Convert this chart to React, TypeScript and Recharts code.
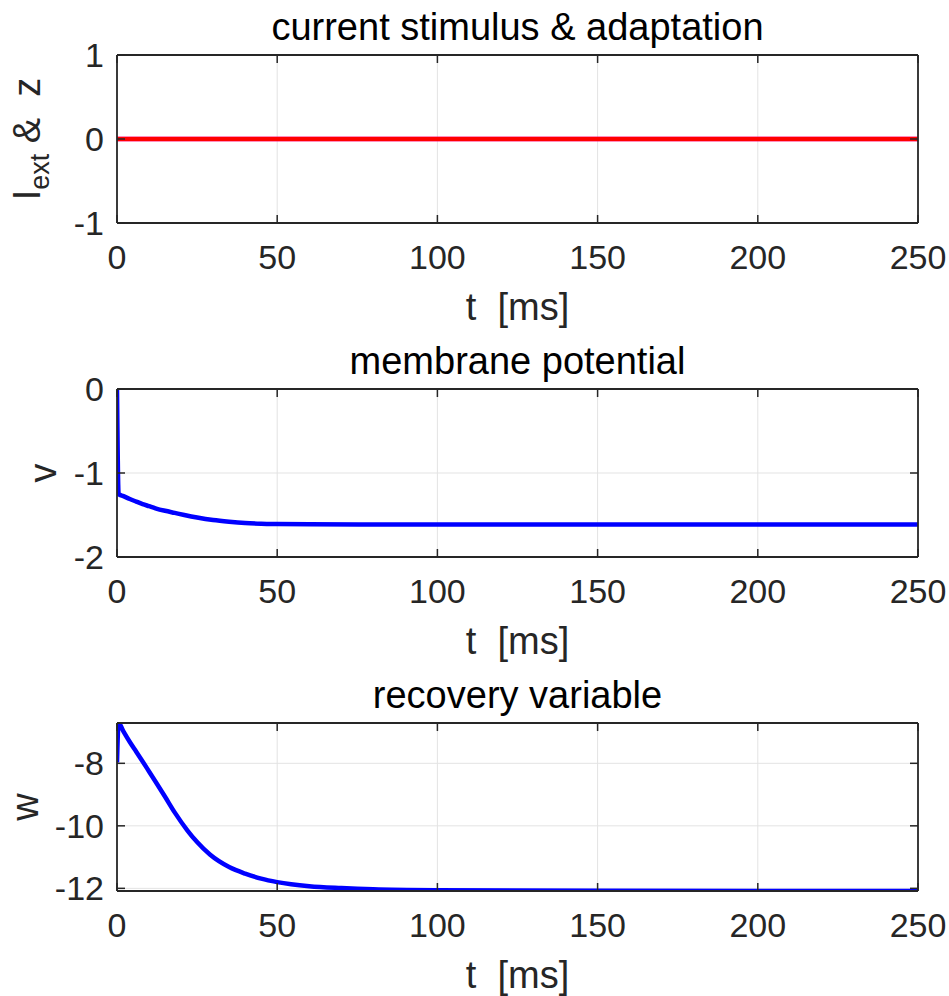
import React from 'react';
import { LineChart, Line, XAxis, YAxis, CartesianGrid } from 'recharts';

// time axis [ms]
const tTicks = [0, 50, 100, 150, 200, 250];

// panel 1: current stimulus & adaptation
const stimTime = [0, 250];
const iExt = [0, 0];
const zAdapt = [0, 0];
const stimTicks = [-1, 0, 1];

// panel 2: membrane potential
const vTime = [0, 0.5, 2, 4, 6, 8, 10, 12, 15, 18, 21, 25, 30, 35, 40, 45, 50, 60, 80, 100, 150, 200, 250];
const vValues = [0, -1.25, -1.275, -1.31, -1.34, -1.37, -1.395, -1.42, -1.45, -1.475, -1.5, -1.53, -1.56, -1.58, -1.595, -1.603, -1.607, -1.611, -1.612, -1.612, -1.612, -1.612, -1.612];
const vTicks = [-2, -1, 0];

// panel 3: recovery variable
const wTime = [0, 0.5, 2, 4, 6, 8, 10, 12, 15, 18, 22, 25, 29, 35, 40, 45, 50, 60, 70, 80, 100, 150, 200, 250];
const wValues = [-7.97, -6.71, -6.98, -7.32, -7.63, -7.94, -8.26, -8.58, -9.07, -9.57, -10.15, -10.52, -10.92, -11.32, -11.53, -11.69, -11.8, -11.93, -11.99, -12.03, -12.06, -12.08, -12.085, -12.085];
const wTicks = [-12, -10, -8];

const FONT = '"Liberation Sans", Arial, Helvetica, sans-serif';
const INK = '#262626';
const GRID = '#e3e3e3';
const W = 949;
const H = 334;
const MARGIN = { top: 55, right: 31, bottom: 51, left: 37 };
const X_AXIS_H = 60;
const Y_AXIS_W = 80;
const PLOT_H = H - MARGIN.top - MARGIN.bottom - X_AXIS_H;
const PLOT_W = W - MARGIN.left - MARGIN.right - Y_AXIS_W;
const TICK_LEN = 8;
const X_TICK_GAP = 22;
const Y_TICK_GAP = 13;

type Series = { key: string; values: number[]; color: string };

const tickStroke = { stroke: INK, strokeWidth: 1.5 };

// x tick label plus inward tick marks on bottom and top edges
function XTick(props: any) {
  const { x, y, payload } = props;
  const axisY = y - X_TICK_GAP;
  return (
    <g>
      <line x1={x} x2={x} y1={axisY} y2={axisY - TICK_LEN} {...tickStroke} />
      <line x1={x} x2={x} y1={axisY - PLOT_H} y2={axisY - PLOT_H + TICK_LEN} {...tickStroke} />
      <text x={x} y={y} dy="0.71em" textAnchor="middle" fontSize={34} fontFamily={FONT} fill={INK}>
        {payload.value}
      </text>
    </g>
  );
}

// y tick label plus inward tick marks on left and right edges
function YTick(props: any) {
  const { x, y, payload } = props;
  const axisX = x + Y_TICK_GAP;
  return (
    <g>
      <line x1={axisX} x2={axisX + TICK_LEN} y1={y} y2={y} {...tickStroke} />
      <line x1={axisX + PLOT_W} x2={axisX + PLOT_W - TICK_LEN} y1={y} y2={y} {...tickStroke} />
      <text x={x} y={y} dy="0.355em" textAnchor="end" fontSize={34} fontFamily={FONT} fill={INK}>
        {payload.value}
      </text>
    </g>
  );
}

function Panel({
  time,
  series,
  yDomain,
  yTicks,
  title,
  yLabel,
}: {
  time: number[];
  series: Series[];
  yDomain: [number, number];
  yTicks: number[];
  title: string;
  yLabel: (vb: any) => React.ReactNode;
}) {
  const data = time.map((t, i) => {
    const row: Record<string, number> = { t };
    series.forEach((s) => (row[s.key] = s.values[i]));
    return row;
  });

  const boxLine = { stroke: INK, strokeWidth: 1.8 };

  const xLabel = (props: any) => {
    const vb = props.viewBox;
    const cx = vb.x + vb.width / 2;
    return (
      <g>
        <text x={cx} y={vb.y - PLOT_H - 15} textAnchor="middle" fontSize={38} fontFamily={FONT} fill="#000">
          {title}
        </text>
        <text x={cx} y={vb.y + 97} textAnchor="middle" fontSize={38} fontFamily={FONT} fill={INK} style={{ whiteSpace: 'pre' }}>
          {'t  [ms]'}
        </text>
      </g>
    );
  };

  return (
    <LineChart width={W} height={H} data={data} margin={MARGIN}>
      <CartesianGrid xAxisId="x" yAxisId="y" stroke={GRID} strokeWidth={1} />
      <XAxis
        xAxisId="x"
        dataKey="t"
        type="number"
        domain={[0, 250]}
        ticks={tTicks}
        interval={0}
        allowDataOverflow
        height={X_AXIS_H}
        tickLine={false}
        tickSize={0}
        tickMargin={X_TICK_GAP}
        axisLine={boxLine}
        tick={<XTick />}
        label={xLabel}
      />
      <XAxis xAxisId="xt" dataKey="t" type="number" orientation="top" domain={[0, 250]} ticks={tTicks} interval={0} allowDataOverflow mirror tick={false} tickLine={false} axisLine={boxLine} />
      <YAxis
        yAxisId="y"
        type="number"
        domain={yDomain}
        ticks={yTicks}
        interval={0}
        allowDataOverflow
        width={Y_AXIS_W}
        tickLine={false}
        tickSize={0}
        tickMargin={Y_TICK_GAP}
        axisLine={boxLine}
        tick={<YTick />}
        label={(props: any) => yLabel(props.viewBox)}
      />
      <YAxis yAxisId="yr" type="number" orientation="right" domain={yDomain} ticks={yTicks} interval={0} allowDataOverflow mirror tick={false} tickLine={false} axisLine={boxLine} />
      {series.map((s) => (
        <Line
          key={s.key}
          xAxisId="x"
          yAxisId="y"
          type="monotone"
          dataKey={s.key}
          stroke={s.color}
          strokeWidth={4.5}
          dot={false}
          activeDot={false}
          isAnimationActive={false}
        />
      ))}
    </LineChart>
  );
}

const labelStyle = { fontSize: 38, fontFamily: FONT, fill: INK };

export default function App() {
  const wMin = Math.min(...wValues);
  const wMax = Math.max(...wValues);
  return (
    <div style={{ position: 'absolute', left: 0, top: 0, width: 949, height: 996, overflow: 'hidden', background: '#fff' }}>
      <div style={{ position: 'absolute', left: 0, top: 0 }}>
        <Panel
          time={stimTime}
          series={[
            { key: 'z', values: zAdapt, color: '#ff00ff' },
            { key: 'iExt', values: iExt, color: '#ff0000' },
          ]}
          yDomain={[-1, 1]}
          yTicks={stimTicks}
          title="current stimulus & adaptation"
          yLabel={(vb) => {
            const x = 40;
            const y = vb.y + vb.height / 2;
            return (
              <text x={x} y={y} transform={`rotate(-90, ${x}, ${y})`} textAnchor="middle" {...labelStyle} style={{ whiteSpace: 'pre' }}>
                I<tspan dy={9} fontSize={27}>ext</tspan>
                <tspan dy={-9}>{' &  z'}</tspan>
              </text>
            );
          }}
        />
      </div>
      <div style={{ position: 'absolute', left: 0, top: 334 }}>
        <Panel
          time={vTime}
          series={[{ key: 'v', values: vValues, color: '#0000ff' }]}
          yDomain={[-2, 0]}
          yTicks={vTicks}
          title="membrane potential"
          yLabel={(vb) => {
            const x = 56;
            const y = vb.y + vb.height / 2;
            return (
              <text x={x} y={y} transform={`rotate(-90, ${x}, ${y})`} textAnchor="middle" {...labelStyle}>
                v
              </text>
            );
          }}
        />
      </div>
      <div style={{ position: 'absolute', left: 0, top: 668 }}>
        <Panel
          time={wTime}
          series={[{ key: 'w', values: wValues, color: '#0000ff' }]}
          yDomain={[wMin, wMax]}
          yTicks={wTicks}
          title="recovery variable"
          yLabel={(vb) => {
            const x = 38;
            const y = vb.y + vb.height / 2;
            return (
              <text x={x} y={y} transform={`rotate(-90, ${x}, ${y})`} textAnchor="middle" {...labelStyle}>
                w
              </text>
            );
          }}
        />
      </div>
    </div>
  );
}
